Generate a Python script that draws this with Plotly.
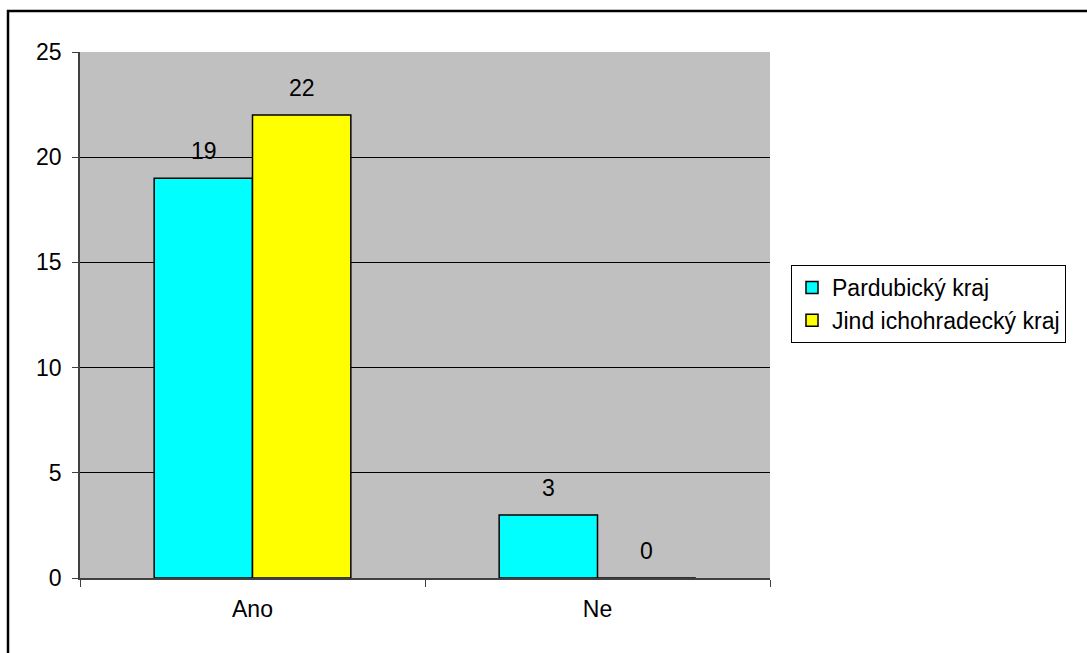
import plotly.graph_objects as go

categories = ["Ano", "Ne"]
series_names = ["Pardubický kraj", "Jind ichohradecký kraj"]
pardubicky = [19, 3]
jind = [22, 0]
series_values = [pardubicky, jind]
colors = ["#00FFFF", "#FFFF00"]
y_ticks = [0, 5, 10, 15, 20, 25]

FONT = "Liberation Sans, Arial, sans-serif"
FS = 23

fig = go.Figure()
for name, vals, col in zip(series_names, series_values, colors):
    fig.add_trace(go.Bar(
        x=categories, y=vals, name=name,
        marker=dict(color=col, line=dict(color="black", width=1.5)),
    ))

# data labels
offsets = [-49, 49]
for vals, dx in zip(series_values, offsets):
    for c, v in zip(categories, vals):
        fig.add_annotation(x=c, y=v, text=str(v), showarrow=False,
                           xshift=dx, yshift=27, yanchor="middle",
                           font=dict(family=FONT, size=FS, color="black"))

L, R, T, B = 80, 317, 52, 75
W, H = 1087, 653
pw, ph = W - L - R, H - T - B
# outer frame
fig.add_shape(type="rect", xref="paper", yref="paper",
              x0=(8 - L) / pw, x1=(1095 - L) / pw,
              y0=-(663 - (H - B)) / ph, y1=1 + (T - 11) / ph,
              line=dict(color="black", width=2.5), fillcolor="rgba(0,0,0,0)",
              layer="below")

fig.update_layout(
    width=W, height=H,
    margin=dict(l=L, r=R, t=T, b=B),
    paper_bgcolor="white", plot_bgcolor="#C0C0C0",
    barmode="group", bargap=0.43, bargroupgap=0,
    font=dict(family=FONT, size=FS, color="black"),
    showlegend=True,
    legend=dict(x=(791 - L) / pw, y=(H - B - 265) / ph, xanchor="left", yanchor="top",
                bordercolor="black", borderwidth=1, bgcolor="white",
                font=dict(family=FONT, size=FS), tracegroupgap=0),
    xaxis=dict(showline=True, linecolor="#404040", linewidth=1.5,
               ticks="outside", tickson="boundaries", ticklen=7, tickcolor="#404040",
               showgrid=False, tickfont=dict(size=FS), ticklabelstandoff=10),
    yaxis=dict(range=[0, 25], tickvals=y_ticks, showline=True, linecolor="#404040", linewidth=1.5,
               ticks="outside", ticklen=6, tickcolor="#404040",
               showgrid=True, gridcolor="black", gridwidth=1, zeroline=False,
               tickfont=dict(size=FS), ticklabelstandoff=6),
)

fig.write_html("out.html")
